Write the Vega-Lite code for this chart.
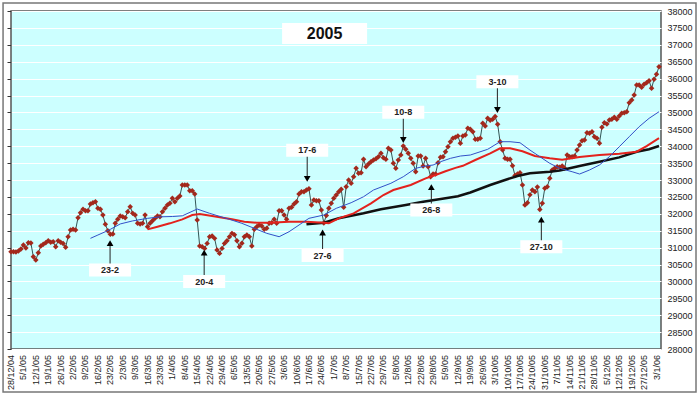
{
  "$schema": "https://vega.github.io/schema/vega-lite/v6.json",
  "width": 650,
  "height": 338,
  "autosize": {"type": "none"},
  "padding": {"left": 11, "top": 11, "right": 39, "bottom": 46},
  "background": "white",
  "config": {
    "view": {"fill": "#ccffff", "stroke": "#555555", "strokeWidth": 1.5},
    "font": "Liberation Sans",
    "axis": {"labelFont": "Liberation Sans", "labelFontSize": 9, "labelColor": "#222222"}
  },
  "datasets": {
    "price": [
      {"d":0,"v":30878},{"d":1,"v":30880},{"d":2,"v":30870},{"d":3,"v":30900},{"d":4,"v":30958},{"d":5,"v":31076},{"d":6,"v":30987},{"d":7,"v":31144},{"d":8,"v":31135},{"d":9,"v":30730},
      {"d":10,"v":30630},{"d":11,"v":30850},{"d":12,"v":31046},{"d":13,"v":31096},{"d":14,"v":31144},{"d":15,"v":31203},{"d":16,"v":31156},{"d":17,"v":31174},{"d":18,"v":31026},{"d":19,"v":31203},
      {"d":20,"v":31156},{"d":21,"v":31120},{"d":22,"v":31008},{"d":23,"v":31322},{"d":24,"v":31520},{"d":25,"v":31540},{"d":26,"v":31520},{"d":27,"v":31886},{"d":28,"v":32034},{"d":29,"v":32133},
      {"d":30,"v":32093},{"d":31,"v":32093},{"d":32,"v":32290},{"d":33,"v":32329},{"d":34,"v":32359},{"d":35,"v":32163},{"d":36,"v":32133},{"d":37,"v":31965},{"d":38,"v":31689},{"d":39,"v":31500},
      {"d":40,"v":31393},{"d":41,"v":31402},{"d":42,"v":31718},{"d":43,"v":31836},{"d":44,"v":31934},{"d":45,"v":31915},{"d":46,"v":31886},{"d":47,"v":32063},{"d":48,"v":32211},{"d":49,"v":32014},
      {"d":50,"v":31965},{"d":51,"v":31718},{"d":52,"v":31698},{"d":53,"v":31718},{"d":54,"v":31965},{"d":55,"v":31620},{"d":56,"v":31718},{"d":57,"v":31797},{"d":58,"v":31866},{"d":59,"v":31934},
      {"d":60,"v":31915},{"d":61,"v":32063},{"d":62,"v":32163},{"d":63,"v":32258},{"d":64,"v":32309},{"d":65,"v":32457},{"d":66,"v":32358},{"d":67,"v":32457},{"d":68,"v":32526},{"d":69,"v":32851},
      {"d":70,"v":32851},{"d":71,"v":32851},{"d":72,"v":32683},{"d":73,"v":32683},{"d":74,"v":32585},{"d":75,"v":31815},{"d":76,"v":31046},{"d":77,"v":31026},{"d":78,"v":30977},{"d":79,"v":31125},
      {"d":80,"v":31322},{"d":81,"v":31342},{"d":82,"v":31273},{"d":83,"v":30928},{"d":84,"v":30829},{"d":85,"v":30977},{"d":86,"v":31125},{"d":87,"v":31203},{"d":88,"v":31322},{"d":89,"v":31421},
      {"d":90,"v":31380},{"d":91,"v":31200},{"d":92,"v":31026},{"d":93,"v":31126},{"d":94,"v":31322},{"d":95,"v":31372},{"d":96,"v":31322},{"d":97,"v":31046},{"d":98,"v":31540},{"d":99,"v":31617},
      {"d":100,"v":31668},{"d":101,"v":31638},{"d":102,"v":31540},{"d":103,"v":31570},{"d":104,"v":31718},{"d":105,"v":31736},{"d":106,"v":31836},{"d":107,"v":31718},{"d":108,"v":32091},{"d":109,"v":32091},
      {"d":110,"v":31964},{"d":111,"v":31836},{"d":112,"v":32162},{"d":113,"v":32192},{"d":114,"v":32289},{"d":115,"v":32358},{"d":116,"v":32585},{"d":117,"v":32653},{"d":118,"v":32653},{"d":119,"v":32703},
      {"d":120,"v":32742},{"d":121,"v":32259},{"d":122,"v":32407},{"d":123,"v":32387},{"d":124,"v":32387},{"d":125,"v":32111},{"d":126,"v":31727},{"d":127,"v":31950},{"d":128,"v":32162},{"d":129,"v":32310},
      {"d":130,"v":32458},{"d":131,"v":32556},{"d":132,"v":32653},{"d":133,"v":32723},{"d":134,"v":32192},{"d":135,"v":32801},{"d":136,"v":33000},{"d":137,"v":32901},{"d":138,"v":33097},{"d":139,"v":33346},
      {"d":140,"v":33197},{"d":141,"v":33215},{"d":142,"v":33611},{"d":143,"v":33393},{"d":144,"v":33473},{"d":145,"v":33541},{"d":146,"v":33591},{"d":147,"v":33630},{"d":148,"v":33689},{"d":149,"v":33789},
      {"d":150,"v":33659},{"d":151,"v":33612},{"d":152,"v":33937},{"d":153,"v":33887},{"d":154,"v":33493},{"d":155,"v":33346},{"d":156,"v":33591},{"d":157,"v":33739},{"d":158,"v":34005},{"d":159,"v":33908},
      {"d":160,"v":33789},{"d":161,"v":33641},{"d":162,"v":33493},{"d":163,"v":33245},{"d":164,"v":33709},{"d":165,"v":33709},{"d":166,"v":33413},{"d":167,"v":33641},{"d":168,"v":33393},{"d":169,"v":33097},
      {"d":170,"v":33177},{"d":171,"v":33177},{"d":172,"v":33511},{"d":173,"v":33671},{"d":174,"v":33689},{"d":175,"v":33837},{"d":176,"v":33985},{"d":177,"v":34133},{"d":178,"v":34233},{"d":179,"v":34263},
      {"d":180,"v":34301},{"d":181,"v":34086},{"d":182,"v":34301},{"d":183,"v":34331},{"d":184,"v":34529},{"d":185,"v":34500},{"d":186,"v":34429},{"d":187,"v":34204},{"d":188,"v":34204},{"d":189,"v":34233},
      {"d":190,"v":34680},{"d":191,"v":34600},{"d":192,"v":34829},{"d":193,"v":34770},{"d":194,"v":34800},{"d":195,"v":34880},{"d":196,"v":34650},{"d":197,"v":34130},{"d":198,"v":33890},{"d":199,"v":33641},
      {"d":200,"v":33611},{"d":201,"v":33611},{"d":202,"v":33420},{"d":203,"v":33130},{"d":204,"v":33177},{"d":205,"v":33215},{"d":206,"v":32851},{"d":207,"v":32259},{"d":208,"v":32330},{"d":209,"v":32560},
      {"d":210,"v":32703},{"d":211,"v":32653},{"d":212,"v":32790},{"d":213,"v":32130},{"d":214,"v":32310},{"d":215,"v":32754},{"d":216,"v":32801},{"d":217,"v":33050},{"d":218,"v":33295},{"d":219,"v":33345},
      {"d":220,"v":33393},{"d":221,"v":33375},{"d":222,"v":33413},{"d":223,"v":33345},{"d":224,"v":33739},{"d":225,"v":33689},{"d":226,"v":33689},{"d":227,"v":33709},{"d":228,"v":33887},{"d":229,"v":34035},
      {"d":230,"v":34162},{"d":231,"v":34183},{"d":232,"v":34399},{"d":233,"v":34381},{"d":234,"v":34429},{"d":235,"v":34281},{"d":236,"v":34234},{"d":237,"v":34085},{"d":238,"v":34559},{"d":239,"v":34695},
      {"d":240,"v":34656},{"d":241,"v":34775},{"d":242,"v":34795},{"d":243,"v":34855},{"d":244,"v":34795},{"d":245,"v":34893},{"d":246,"v":34973},{"d":247,"v":34991},{"d":248,"v":35020},{"d":249,"v":35287},
      {"d":250,"v":35366},{"d":251,"v":35514},{"d":252,"v":35810},{"d":253,"v":35810},{"d":254,"v":35742},{"d":255,"v":35831},{"d":256,"v":35878},{"d":257,"v":35938},{"d":258,"v":35713},{"d":259,"v":35980},
      {"d":260,"v":36130},{"d":261,"v":36352}
    ],
    "maBlue": [
      {"d":32,"v":31274},{"d":35,"v":31372},{"d":38,"v":31470},{"d":40,"v":31540},{"d":44,"v":31700},{"d":49,"v":31790},{"d":55,"v":31866},{"d":60,"v":31910},{"d":65,"v":31920},{"d":69,"v":31940},
      {"d":75,"v":32141},{"d":80,"v":32014},{"d":88,"v":31836},{"d":93,"v":31718},{"d":99,"v":31540},{"d":103,"v":31422},{"d":108,"v":31322},{"d":112,"v":31470},{"d":116,"v":31668},{"d":120,"v":31866},
      {"d":126,"v":31964},{"d":131,"v":32162},{"d":137,"v":32328},{"d":142,"v":32505},{"d":146,"v":32704},{"d":153,"v":32902},{"d":158,"v":33097},{"d":163,"v":33346},{"d":167,"v":33414},{"d":170,"v":33443},
      {"d":173,"v":33541},{"d":177,"v":33641},{"d":181,"v":33709},{"d":185,"v":33739},{"d":192,"v":33908},{"d":197,"v":34133},{"d":201,"v":34133},{"d":205,"v":34103},{"d":209,"v":33887},{"d":213,"v":33689},
      {"d":217,"v":33493},{"d":221,"v":33346},{"d":226,"v":33245},{"d":229,"v":33177},{"d":233,"v":33295},{"d":237,"v":33443},{"d":241,"v":33689},{"d":245,"v":33985},{"d":249,"v":34281},{"d":253,"v":34576},
      {"d":257,"v":34825},{"d":261,"v":35020}
    ],
    "maRed": [
      {"d":55,"v":31540},{"d":59,"v":31617},{"d":64,"v":31718},{"d":69,"v":31836},{"d":73,"v":31964},{"d":76,"v":31993},{"d":81,"v":31934},{"d":89,"v":31836},{"d":94,"v":31765},{"d":99,"v":31736},
      {"d":104,"v":31736},{"d":112,"v":31765},{"d":119,"v":31765},{"d":126,"v":31736},{"d":128,"v":31718},{"d":132,"v":31866},{"d":138,"v":32014},{"d":145,"v":32310},{"d":150,"v":32555},{"d":154,"v":32704},
      {"d":161,"v":32851},{"d":167,"v":33049},{"d":171,"v":33147},{"d":175,"v":33260},{"d":179,"v":33360},{"d":182,"v":33420},{"d":187,"v":33591},{"d":193,"v":33789},{"d":197,"v":33937},{"d":201,"v":33937},
      {"d":206,"v":33850},{"d":211,"v":33709},{"d":217,"v":33641},{"d":222,"v":33600},{"d":229,"v":33680},{"d":237,"v":33739},{"d":245,"v":33780},{"d":252,"v":33837},{"d":256,"v":34005},{"d":261,"v":34240}
    ],
    "maBlack": [
      {"d":119,"v":31688},{"d":126,"v":31736},{"d":132,"v":31866},{"d":142,"v":32014},{"d":149,"v":32133},{"d":159,"v":32259},{"d":166,"v":32358},{"d":175,"v":32457},{"d":180,"v":32520},{"d":185,"v":32630},
      {"d":193,"v":32851},{"d":199,"v":33000},{"d":204,"v":33120},{"d":209,"v":33197},{"d":217,"v":33245},{"d":221,"v":33280},{"d":229,"v":33413},{"d":237,"v":33541},{"d":245,"v":33670},{"d":252,"v":33837},
      {"d":257,"v":33908},{"d":261,"v":34005}
    ],
    "notes": [
      {"d":39.9,"name":"23-2","lab":30336,"tip":31135,"dir":"up"},
      {"d":77.8,"name":"20-4","lab":29996,"tip":30854,"dir":"up"},
      {"d":119.3,"name":"17-6","lab":33878,"tip":33034,"dir":"down"},
      {"d":125.5,"name":"27-6","lab":30765,"tip":31446,"dir":"up"},
      {"d":158,"name":"10-8","lab":35002,"tip":34183,"dir":"down"},
      {"d":169.3,"name":"26-8","lab":32112,"tip":32792,"dir":"up"},
      {"d":195.9,"name":"3-10","lab":35908,"tip":35071,"dir":"down"},
      {"d":213.6,"name":"27-10","lab":31026,"tip":31825,"dir":"up"}
    ],
    "xlabels": [
      {"d":0,"label":"28/12/04"},{"d":5,"label":"5/1/05"},{"d":10,"label":"12/1/05"},{"d":15,"label":"19/1/05"},{"d":20,"label":"26/1/05"},{"d":25,"label":"2/2/05"},{"d":30,"label":"9/2/05"},{"d":35,"label":"16/2/05"},{"d":40,"label":"23/2/05"},{"d":45,"label":"2/3/05"},
      {"d":50,"label":"9/3/05"},{"d":55,"label":"16/3/05"},{"d":60,"label":"23/3/05"},{"d":65,"label":"1/4/05"},{"d":70,"label":"8/4/05"},{"d":75,"label":"15/4/05"},{"d":80,"label":"22/4/05"},{"d":85,"label":"29/4/05"},{"d":90,"label":"6/5/05"},{"d":95,"label":"13/5/05"},
      {"d":100,"label":"20/5/05"},{"d":105,"label":"27/5/05"},{"d":110,"label":"3/6/05"},{"d":115,"label":"10/6/05"},{"d":120,"label":"17/6/05"},{"d":125,"label":"24/6/05"},{"d":130,"label":"1/7/05"},{"d":135,"label":"8/7/05"},{"d":140,"label":"15/7/05"},{"d":145,"label":"22/7/05"},
      {"d":150,"label":"29/7/05"},{"d":155,"label":"5/8/05"},{"d":160,"label":"12/8/05"},{"d":165,"label":"22/8/05"},{"d":170,"label":"29/8/05"},{"d":175,"label":"5/9/05"},{"d":180,"label":"12/9/05"},{"d":185,"label":"19/9/05"},{"d":190,"label":"26/9/05"},{"d":195,"label":"3/10/05"},
      {"d":200,"label":"10/10/05"},{"d":205,"label":"17/10/05"},{"d":210,"label":"24/10/05"},{"d":215,"label":"31/10/05"},{"d":220,"label":"7/11/05"},{"d":225,"label":"14/11/05"},{"d":230,"label":"21/11/05"},{"d":235,"label":"28/11/05"},{"d":240,"label":"5/12/05"},{"d":245,"label":"12/12/05"},
      {"d":250,"label":"19/12/05"},{"d":255,"label":"27/12/05"},{"d":260,"label":"3/1/06"}
    ],
    "title": [{"d":126.3,"v":37334,"name":"2005"}]
  },
  "resolve": {"axis": {"y": "independent"}},
  "layer": [
    {
      "data": {"name": "title"},
      "mark": {"type": "rect", "fill": null, "stroke": "#777777", "strokeWidth": 1.5, "clip": false},
      "encoding": {
        "x": {"datum": -3.2, "type": "quantitative", "scale": {"domain": [0, 261.8], "nice": false, "zero": false}, "axis": null},
        "x2": {"datum": 275.9},
        "y": {"datum": 38237, "type": "quantitative", "scale": {"domain": [28000, 38000], "nice": false, "zero": false}, "axis": null},
        "y2": {"datum": 26726}
      }
    },
    {
      "data": {"name": "price"},
      "mark": {"type": "line", "color": "#335555", "strokeWidth": 1},
      "encoding": {
        "x": {"field": "d", "type": "quantitative",
          "axis": {
            "values": [0,5,10,15,20,25,30,35,40,45,50,55,60,65,70,75,80,85,90,95,100,105,110,115,120,125,130,135,140,145,150,155,160,165,170,175,180,185,190,195,200,205,210,215,220,225,230,235,240,245,250,255,260],
            "labels": false, "title": null,
            "tickSize": 4, "tickColor": "#333333", "domain": false,
            "grid": true, "gridColor": "#ffffff", "gridWidth": 1
          }
        },
        "y": {"field": "v", "type": "quantitative",
          "axis": {
            "orient": "right", "title": null, "format": "d",
            "values": [28000,28500,29000,29500,30000,30500,31000,31500,32000,32500,33000,33500,34000,34500,35000,35500,36000,36500,37000,37500,38000],
            "labelPadding": 6, "ticks": false, "domain": false, "labelOverlap": false, "labelFlush": false,
            "grid": true, "gridColor": "#ffffff", "gridWidth": 1
          }
        }
      }
    },
    {
      "data": {"name": "price"},
      "mark": {"type": "point", "shape": "diamond", "filled": true, "color": "#a3281c", "size": 30, "opacity": 1},
      "encoding": {
        "x": {"field": "d", "type": "quantitative", "axis": null},
        "y": {"field": "v", "type": "quantitative",
          "axis": {
            "orient": "left", "labels": false, "ticks": true, "tickSize": 4, "tickColor": "#333333", "title": null,
            "values": [28000,28500,29000,29500,30000,30500,31000,31500,32000,32500,33000,33500,34000,34500,35000,35500,36000,36500,37000,37500,38000],
            "domain": false, "grid": false
          }
        }
      }
    },
    {
      "data": {"name": "maBlack"},
      "mark": {"type": "line", "color": "#111111", "strokeWidth": 2.5},
      "encoding": {
        "x": {"field": "d", "type": "quantitative", "axis": null},
        "y": {"field": "v", "type": "quantitative", "axis": null}
      }
    },
    {
      "data": {"name": "maRed"},
      "mark": {"type": "line", "color": "#e3221d", "strokeWidth": 2},
      "encoding": {
        "x": {"field": "d", "type": "quantitative", "axis": null},
        "y": {"field": "v", "type": "quantitative", "axis": null}
      }
    },
    {
      "data": {"name": "maBlue"},
      "mark": {"type": "line", "color": "#3350c8", "strokeWidth": 1},
      "encoding": {
        "x": {"field": "d", "type": "quantitative", "axis": null},
        "y": {"field": "v", "type": "quantitative", "axis": null}
      }
    },
    {
      "data": {"name": "notes"},
      "mark": {"type": "rule", "color": "#222222", "strokeWidth": 1},
      "encoding": {
        "x": {"field": "d", "type": "quantitative", "axis": null},
        "y": {"field": "lab", "type": "quantitative", "axis": null},
        "y2": {"field": "tip"}
      }
    },
    {
      "data": {"name": "notes"},
      "mark": {"type": "point", "filled": true, "color": "#000000", "size": 45, "opacity": 1},
      "encoding": {
        "x": {"field": "d", "type": "quantitative", "axis": null},
        "y": {"field": "tip", "type": "quantitative", "axis": null},
        "shape": {"field": "dir", "type": "nominal", "scale": {"domain": ["up", "down"], "range": ["triangle-up", "triangle-down"]}, "legend": null}
      }
    },
    {
      "data": {"name": "notes"},
      "mark": {"type": "point", "shape": "M-1,-0.31H1V0.31H-1Z", "filled": true, "color": "#ffffff", "size": 1764, "opacity": 1},
      "encoding": {
        "x": {"field": "d", "type": "quantitative", "axis": null},
        "y": {"field": "lab", "type": "quantitative", "axis": null}
      }
    },
    {
      "data": {"name": "notes"},
      "mark": {"type": "text", "font": "Liberation Sans", "fontSize": 9, "fontWeight": "bold", "color": "#222222", "align": "center", "baseline": "middle"},
      "encoding": {
        "x": {"field": "d", "type": "quantitative", "axis": null},
        "y": {"field": "lab", "type": "quantitative", "axis": null},
        "text": {"field": "name"}
      }
    },
    {
      "data": {"name": "title"},
      "mark": {"type": "point", "shape": "M-1,-0.247H1V0.247H-1Z", "filled": true, "color": "#ffffff", "size": 7225, "opacity": 1},
      "encoding": {
        "x": {"field": "d", "type": "quantitative", "axis": null},
        "y": {"field": "v", "type": "quantitative", "axis": null}
      }
    },
    {
      "data": {"name": "title"},
      "mark": {"type": "text", "font": "Liberation Sans", "fontSize": 16, "fontWeight": "bold", "color": "#111111", "align": "center", "baseline": "middle"},
      "encoding": {
        "x": {"field": "d", "type": "quantitative", "axis": null},
        "y": {"field": "v", "type": "quantitative", "axis": null},
        "text": {"field": "name"}
      }
    },
    {
      "data": {"name": "xlabels"},
      "mark": {"type": "text", "font": "Liberation Sans", "fontSize": 9, "color": "#222222", "angle": 270, "align": "right", "baseline": "middle", "clip": false},
      "encoding": {
        "x": {"field": "d", "type": "quantitative", "axis": null},
        "y": {"datum": 27822, "type": "quantitative", "axis": null},
        "text": {"field": "label"}
      }
    }
  ]
}
